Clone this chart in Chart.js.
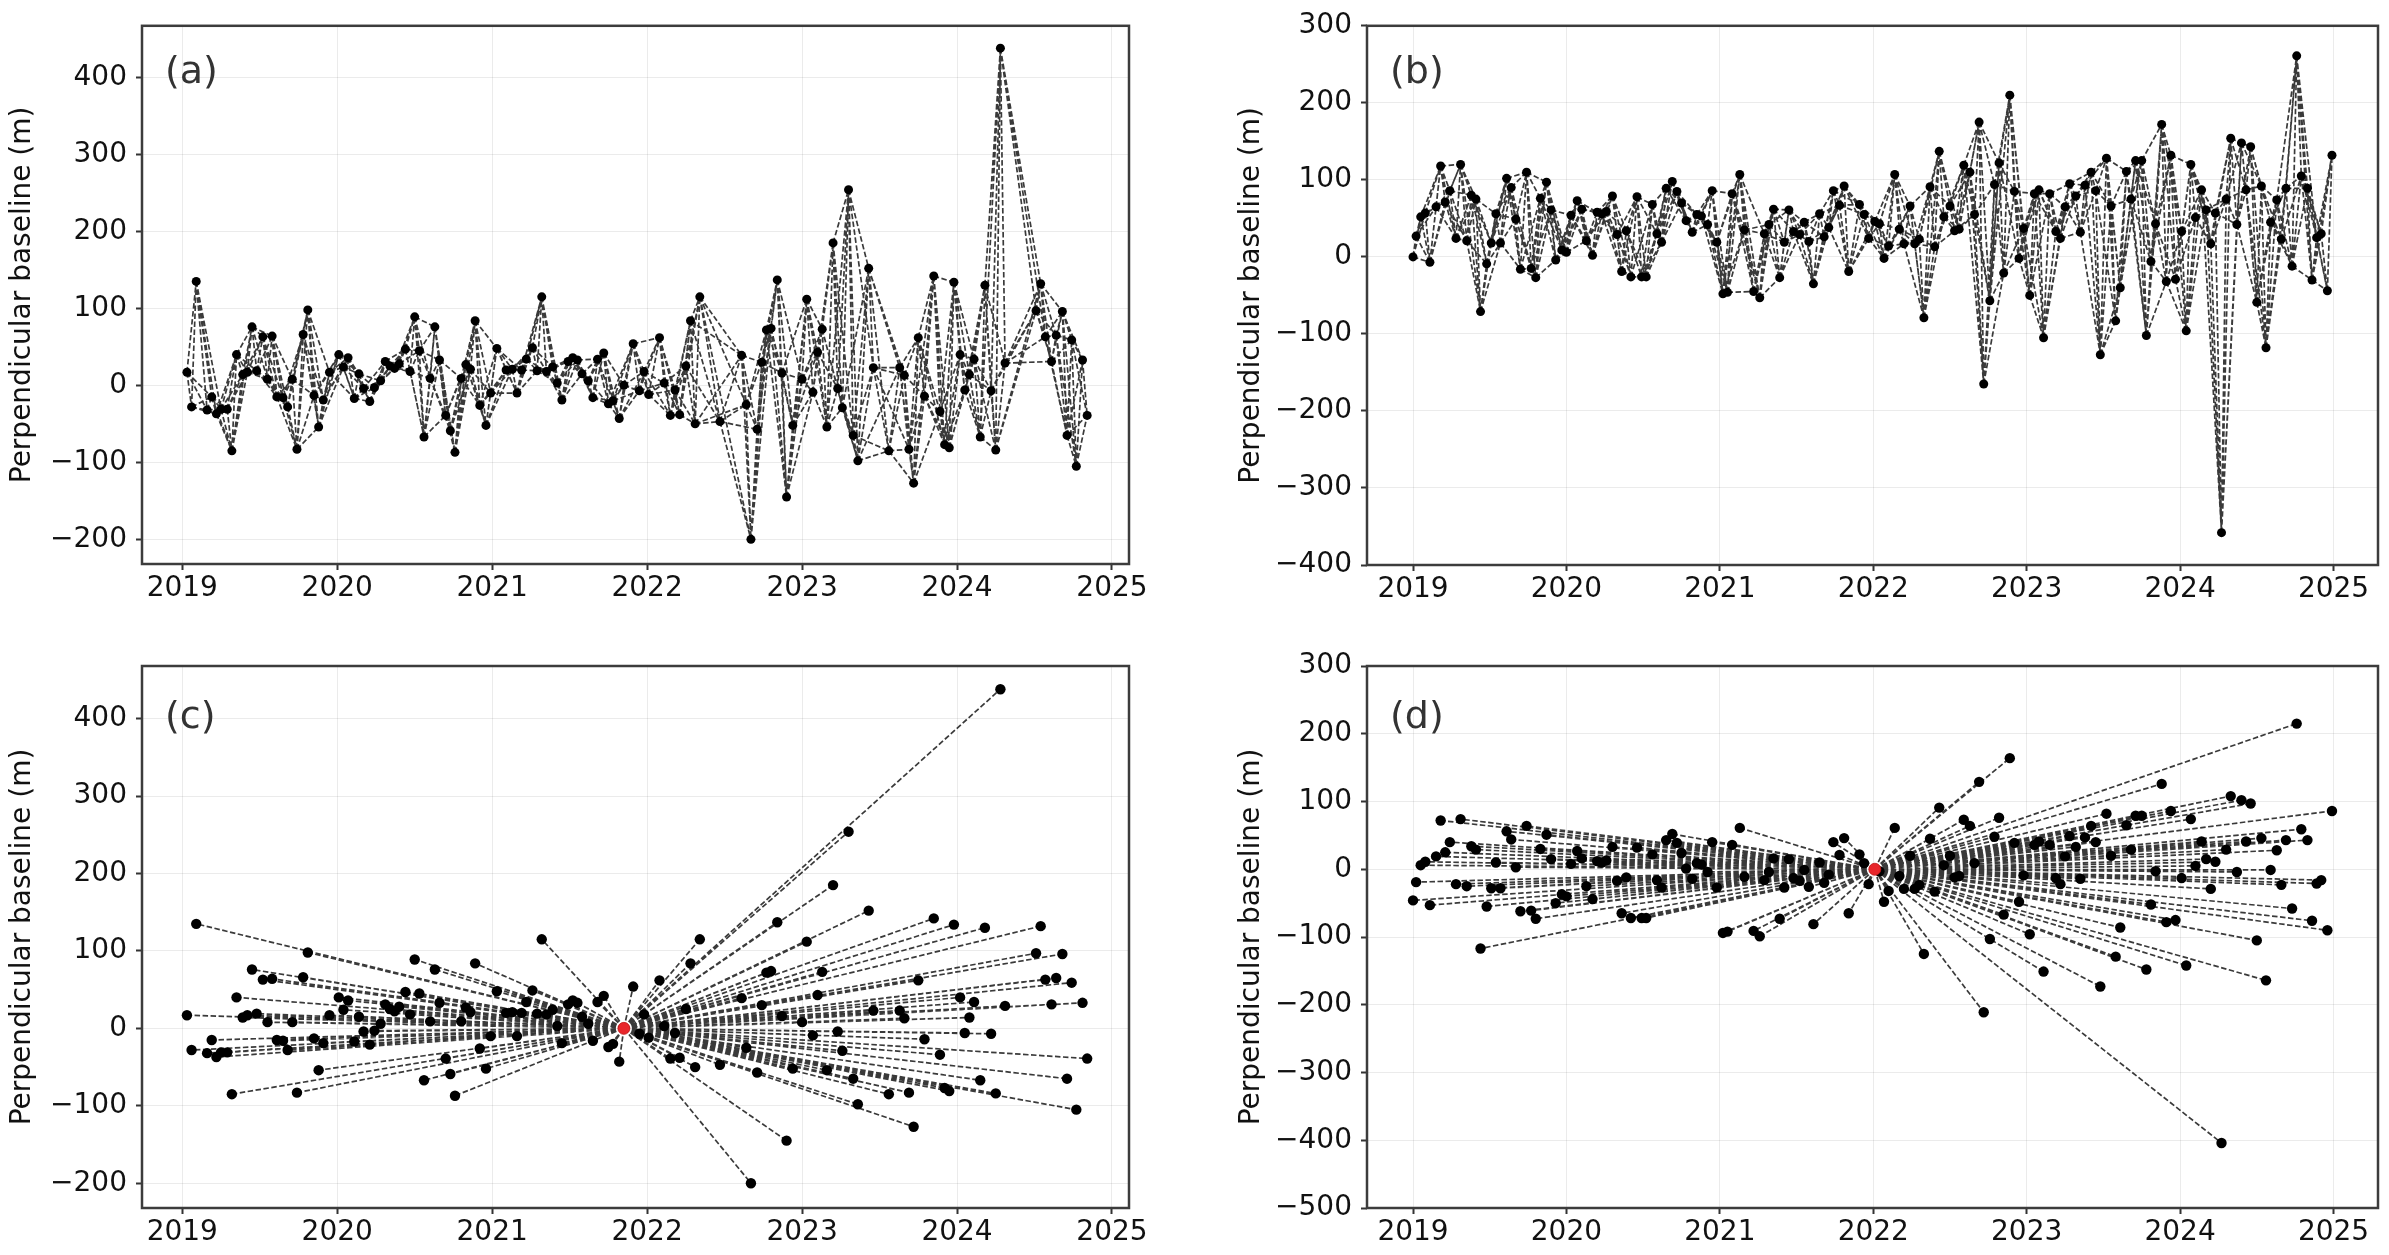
<!DOCTYPE html>
<html><head><meta charset="utf-8">
<script src="https://cdn.jsdelivr.net/npm/chart.js@4.4.0/dist/chart.umd.min.js"></script>
<style>
html,body{margin:0;padding:0;background:#fff;width:2389px;height:1255px;overflow:hidden}
.p{position:absolute}
</style></head><body>
<div class="p" style="left:0;top:0;width:1160px;height:627px"><canvas id="ca"></canvas></div>
<div class="p" style="left:1160px;top:0;width:1229px;height:627px"><canvas id="cb"></canvas></div>
<div class="p" style="left:0;top:627px;width:1160px;height:628px"><canvas id="cc"></canvas></div>
<div class="p" style="left:1160px;top:627px;width:1229px;height:628px"><canvas id="cd"></canvas></div>
<script>
// Track 1 (panels a, c): acquisition dates (decimal year) and perpendicular baselines (m)
const datesA = [
2019.03,2019.06,2019.09,2019.16,2019.19,2019.22,2019.25,2019.29,2019.32,2019.35,
2019.39,2019.42,2019.45,2019.48,2019.52,2019.55,2019.58,2019.61,2019.65,2019.68,
2019.71,2019.74,2019.78,2019.81,2019.85,2019.88,2019.91,2019.95,2020.01,2020.04,
2020.07,2020.11,2020.14,2020.17,2020.21,2020.24,2020.28,2020.31,2020.34,2020.37,
2020.40,2020.44,2020.47,2020.50,2020.53,2020.56,2020.60,2020.63,2020.66,2020.70,
2020.73,2020.76,2020.80,2020.83,2020.86,2020.89,2020.92,2020.96,2020.99,2021.03,
2021.09,2021.13,2021.16,2021.19,2021.22,2021.26,2021.29,2021.32,2021.35,2021.39,
2021.42,2021.45,2021.49,2021.52,2021.55,2021.58,2021.62,2021.65,2021.68,2021.72,
2021.75,2021.78,2021.82,2021.85,2021.91,2021.95,2021.98,2022.01,2022.08,2022.11,
2022.15,2022.18,2022.21,2022.25,2022.28,2022.31,2022.34,2022.47,2022.61,2022.64,
2022.67,2022.71,2022.74,2022.77,2022.80,2022.84,2022.87,2022.90,2022.94,2023.00,
2023.03,2023.07,2023.10,2023.13,2023.16,2023.20,2023.23,2023.26,2023.30,2023.33,
2023.36,2023.43,2023.46,2023.56,2023.63,2023.66,2023.69,2023.72,2023.75,2023.79,
2023.85,2023.89,2023.92,2023.95,2023.98,2024.02,2024.05,2024.08,2024.11,2024.15,
2024.18,2024.22,2024.25,2024.28,2024.31,2024.51,2024.54,2024.57,2024.61,2024.64,
2024.68,2024.71,2024.74,2024.77,2024.81,2024.84];
const baselineA = [
17,-28,135,-32,-15,-37,-31,-31,-85,40,
14,17,76,19,63,8,64,-15,-16,-28,
8,-83,66,98,-13,-54,-19,17,40,24,
36,-17,15,-4,-21,-3,6,31,25,22,
28,47,18,89,45,-67,9,76,33,-39,
-59,-87,9,27,21,84,-26,-52,-10,48,
20,21,-10,20,34,49,19,115,18,24,
3,-19,31,36,33,15,6,-16,34,42,
-24,-20,-43,0,54,-7,18,-12,62,3,
-39,-6,-38,25,84,-50,115,-47,39,-25,
-200,-57,30,72,74,137,16,-145,-52,8,
112,-9,43,73,-54,185,-4,-29,254,-65,
-98,152,23,-85,23,13,-83,-127,62,-14,
142,-34,-77,-81,134,40,-6,14,34,-67,
130,-7,-84,438,29,97,132,63,31,65,
96,-65,59,-105,33,-39];
const refDateA = 2021.85;

// Track 2 (panels b, d)
const datesB = [
2019.00,2019.02,2019.05,2019.08,2019.11,2019.15,2019.18,2019.21,2019.24,2019.28,
2019.31,2019.35,2019.38,2019.41,2019.44,2019.48,2019.51,2019.54,2019.57,2019.61,
2019.64,2019.67,2019.70,2019.74,2019.77,2019.80,2019.83,2019.87,2019.90,2019.93,
2019.97,2020.00,2020.03,2020.07,2020.10,2020.13,2020.17,2020.20,2020.23,2020.26,
2020.30,2020.33,2020.36,2020.39,2020.42,2020.46,2020.49,2020.52,2020.56,2020.59,
2020.62,2020.65,2020.69,2020.72,2020.75,2020.78,2020.82,2020.85,2020.88,2020.92,
2020.95,2020.98,2021.02,2021.05,2021.08,2021.13,2021.16,2021.22,2021.26,2021.29,
2021.32,2021.35,2021.39,2021.42,2021.45,2021.48,2021.52,2021.55,2021.58,2021.61,
2021.65,2021.68,2021.71,2021.74,2021.78,2021.81,2021.84,2021.91,2021.94,2021.97,
2022.01,2022.04,2022.07,2022.10,2022.14,2022.17,2022.20,2022.24,2022.27,2022.30,
2022.33,2022.37,2022.40,2022.43,2022.46,2022.50,2022.53,2022.56,2022.59,2022.63,
2022.66,2022.69,2022.72,2022.76,2022.79,2022.82,2022.85,2022.89,2022.92,2022.95,
2022.98,2023.02,2023.05,2023.08,2023.11,2023.15,2023.19,2023.22,2023.25,2023.28,
2023.32,2023.35,2023.38,2023.42,2023.45,2023.48,2023.52,2023.55,2023.58,2023.61,
2023.65,2023.68,2023.71,2023.75,2023.78,2023.81,2023.84,2023.88,2023.91,2023.94,
2023.97,2024.01,2024.04,2024.07,2024.10,2024.14,2024.17,2024.20,2024.23,2024.27,
2024.30,2024.33,2024.37,2024.40,2024.43,2024.46,2024.50,2024.53,2024.56,2024.59,
2024.63,2024.66,2024.69,2024.73,2024.76,2024.79,2024.83,2024.86,2024.89,2024.92,
2024.96,2024.99];
const baselineB = [
0,27,52,57,-7,65,118,71,86,24,
120,21,80,75,-71,-9,18,56,18,102,
90,49,-16,110,-15,-27,76,97,61,-4,
9,6,54,73,62,21,2,58,56,59,
79,29,-19,34,-26,78,-26,-26,68,30,
19,89,98,85,70,47,32,55,53,42,
86,19,-48,-46,82,107,35,-45,-53,30,
42,62,-27,19,61,33,29,45,20,-35,
56,26,38,86,67,92,-19,68,55,24,
46,43,-2,14,107,36,17,66,17,23,
-79,91,13,137,52,66,34,36,119,110,
55,175,-165,-57,94,122,-21,210,85,-2,
37,-50,82,87,-105,82,33,24,65,95,
79,32,93,110,86,-127,128,66,-83,-40,
111,75,125,125,-102,-6,43,172,-32,132,
-29,33,-96,120,51,87,61,17,57,-358,
75,154,42,148,87,143,-59,92,-118,45,
74,23,89,-12,261,105,89,-30,25,30,
-44,132];
const refDateB = 2022.01;

// Tick labels
const yearTicks = [2019, 2020, 2021, 2022, 2023, 2024, 2025];
const yTicksA = [-200, -100, 0, 100, 200, 300, 400];
const yTicksB = [-400, -300, -200, -100, 0, 100, 200, 300];
const yTicksD = [-500, -400, -300, -200, -100, 0, 100, 200, 300];
const panelLabels = ['(a)', '(b)', '(c)', '(d)'];
const yTitle = 'Perpendicular baseline (m)';
const networkNeighbours = 4;

const FONT = '"DejaVu Sans", sans-serif';
const fmt = v => v < 0 ? '\u2212' + Math.abs(v) : String(v);

function networkEdges(n) {
  const e = [];
  for (let i = 0; i < n; i++) for (let k = 1; k <= networkNeighbours; k++) if (i + k < n) e.push([i, i + k]);
  return e;
}
function starEdges(n, ref) {
  const e = [];
  for (let i = 0; i < n; i++) if (i !== ref) e.push([ref, i]);
  return e;
}
function relative(values, ref) { return values.map(v => v - values[ref]); }

const framePlugin = {
  id: 'frame',
  afterDatasetsDraw(chart, args, o) {
    const {ctx, chartArea: a} = chart;
    ctx.save();
    ctx.strokeStyle = '#3c3c3c';
    ctx.lineWidth = 2.5;
    ctx.strokeRect(a.left, a.top, a.right - a.left, a.bottom - a.top);
    ctx.font = '38px ' + FONT;
    ctx.fillStyle = '#333';
    ctx.textAlign = 'left';
    ctx.textBaseline = 'alphabetic';
    ctx.fillText(o.label, a.left + 23, a.top + o.ly);
    ctx.restore();
  }
};

function build(id, s) {
  const pts = s.dates.map((d, i) => ({x: d, y: s.values[i]}));
  const edgeData = [];
  s.edges.forEach(([i, j]) => {
    edgeData.push({x: s.dates[i], y: s.values[i]}, {x: s.dates[j], y: s.values[j]}, {x: s.dates[j], y: null});
  });
  const datasets = [];
  if (s.ref != null) datasets.push({data: [pts[s.ref]], pointRadius: 6, backgroundColor: '#e8262b', borderColor: '#c01818', borderWidth: 0.8, order: 0});
  datasets.push({data: pts, pointRadius: s.r, backgroundColor: '#000', borderWidth: 0, order: 1});
  datasets.push({data: edgeData, showLine: true, spanGaps: false, pointRadius: 0, borderColor: 'rgba(15,15,15,0.82)', borderWidth: 1.7, borderDash: [5.5, 2.5], order: 2});
  const tickFont = {family: FONT, size: 28};
  new Chart(document.getElementById(id), {
    type: 'scatter',
    data: {datasets},
    options: {
      responsive: true, maintainAspectRatio: false, animation: false, devicePixelRatio: 1,
      layout: {padding: s.pad},
      plugins: {legend: {display: false}, tooltip: {enabled: false}, frame: {label: s.label, ly: s.ly}},
      scales: {
        x: {
          type: 'linear', min: s.xmin, max: s.xmax,
          afterBuildTicks: ax => { ax.ticks = yearTicks.map(v => ({value: v})); },
          afterFit: ax => { ax.height = s.xh; },
          ticks: {callback: v => String(v), font: tickFont, color: '#111', padding: 2, maxRotation: 0, autoSkip: false},
          grid: {color: 'rgba(0,0,0,0.08)', lineWidth: 1, tickColor: '#333', tickLength: 6, tickWidth: 2},
          border: {display: false}
        },
        y: {
          type: 'linear', min: s.ymin, max: s.ymax,
          afterBuildTicks: ax => { ax.ticks = s.yticks.map(v => ({value: v})); },
          afterFit: ax => { ax.width = s.yw; },
          ticks: {callback: v => fmt(v), font: tickFont, color: '#111', padding: 9, autoSkip: false},
          grid: {color: 'rgba(0,0,0,0.08)', lineWidth: 1, tickColor: '#333', tickLength: 6, tickWidth: 2},
          border: {display: false},
          title: {display: true, text: yTitle, font: {family: FONT, size: 28}, color: '#111', padding: {top: 6, bottom: 0}}
        }
      }
    },
    plugins: [framePlugin]
  });
}

const refA = datesA.indexOf(refDateA);
const refB = datesB.indexOf(refDateB);
const relA = relative(baselineA, refA);
const relB = relative(baselineB, refB);

build('ca', {dates: datesA, values: baselineA, edges: networkEdges(datesA.length), ref: null, r: 4.5,
  xmin: 2018.74, xmax: 2025.11, ymin: -232, ymax: 467, yticks: yTicksA, label: panelLabels[0], ly: 57,
  pad: {top: 21, right: 31, left: 0, bottom: 0}, yw: 142, xh: 63});
build('cb', {dates: datesB, values: baselineB, edges: networkEdges(datesB.length), ref: null, r: 4.5,
  xmin: 2018.70, xmax: 2025.29, ymin: -400, ymax: 300, yticks: yTicksB, label: panelLabels[1], ly: 57,
  pad: {top: 21, right: 11, left: 69, bottom: 0}, yw: 138, xh: 62});
build('cc', {dates: datesA, values: relA, edges: starEdges(datesA.length, refA), ref: refA, r: 5.2,
  xmin: 2018.74, xmax: 2025.11, ymin: -232, ymax: 468, yticks: yTicksA, label: panelLabels[2], ly: 62,
  pad: {top: 39, right: 31, left: 0, bottom: 0}, yw: 142, xh: 47});
build('cd', {dates: datesB, values: relB, edges: starEdges(datesB.length, refB), ref: refB, r: 5.2,
  xmin: 2018.70, xmax: 2025.29, ymin: -500, ymax: 300, yticks: yTicksD, label: panelLabels[3], ly: 62,
  pad: {top: 39, right: 11, left: 69, bottom: 0}, yw: 138, xh: 47});
</script>
</body></html>
